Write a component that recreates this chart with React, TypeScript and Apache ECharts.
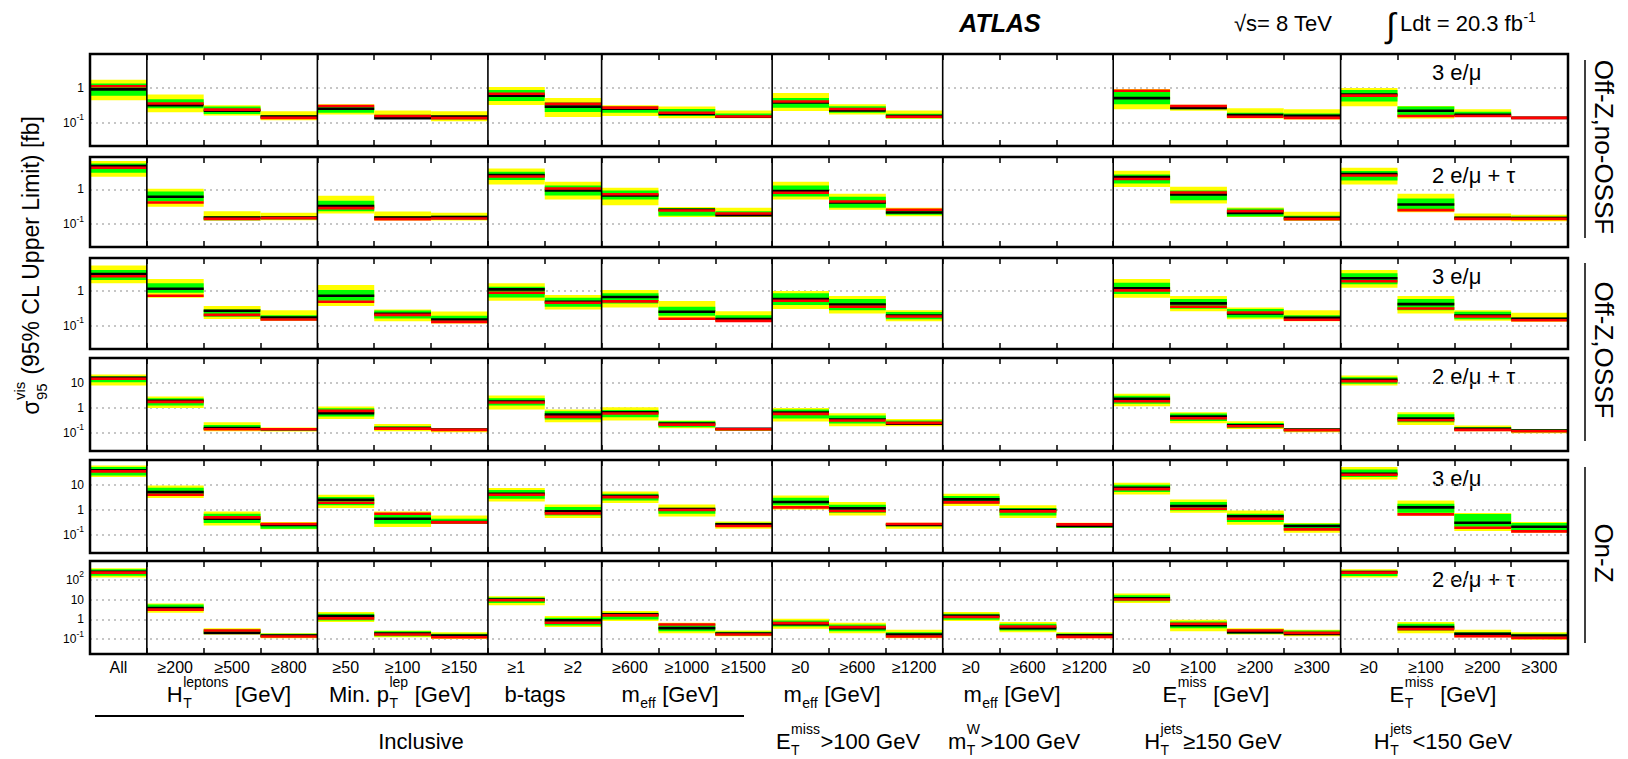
import React, { useEffect, useRef } from 'react';
import * as echarts from 'echarts';

const FONT = '"Liberation Sans", Arial, Helvetica, sans-serif';

const BINS = ['All', '≥200', '≥500', '≥800', '≥50', '≥100', '≥150', '≥1', '≥2', '≥600', '≥1000', '≥1500', '≥0', '≥600', '≥1200', '≥0', '≥600', '≥1200', '≥0', '≥100', '≥200', '≥300', '≥0', '≥100', '≥200', '≥300'];
const GROUP_STARTS = [1, 4, 7, 9, 12, 15, 18, 22];
const CHANNELS = ['3 e/μ', '2 e/μ + τ', '3 e/μ', '2 e/μ + τ', '3 e/μ', '2 e/μ + τ'];
const REGIONS = ['Off-Z,no-OSSF', 'Off-Z,OSSF', 'On-Z'];
const Y_MIN = [0.021, 0.022, 0.022, 0.019, 0.019, 0.018];
const Y_MAX = [9.6, 8.6, 8.5, 98, 95, 880];

const N = null;
// Row 1: Off-Z, no-OSSF, 3 e/mu
const R1_Y2_LO = [0.44, 0.20, 0.161, 0.117, 0.172, 0.128, 0.109, 0.32, 0.144, 0.154, 0.134, 0.134, 0.215, 0.172, 0.128, N, N, N, 0.241, 0.22, 0.131, 0.123, 0.296, 0.131, 0.147, 0.128];
const R1_Y2_HI = [1.72, 0.65, 0.316, 0.211, 0.338, 0.225, 0.211, 1.07, 0.51, 0.316, 0.289, 0.225, 0.71, 0.338, 0.225, N, N, N, 0.93, 0.33, 0.258, 0.241, 1.0, 0.30, 0.241, 0.147];
const R1_G1_LO = [0.60, 0.26, 0.176, 0.128, 0.192, 0.131, 0.123, 0.42, 0.201, 0.192, 0.154, 0.137, 0.27, 0.192, 0.134, N, N, N, 0.338, 0.241, 0.147, 0.137, 0.405, 0.147, 0.154, 0.131];
const R1_G1_HI = [1.34, 0.47, 0.289, 0.164, 0.289, 0.168, 0.157, 0.87, 0.379, 0.289, 0.247, 0.184, 0.51, 0.296, 0.18, N, N, N, 0.78, 0.289, 0.192, 0.184, 0.87, 0.289, 0.206, 0.144];
const R1_EXP = [0.91, 0.316, 0.22, 0.15, 0.252, 0.134, 0.15, 0.60, 0.289, 0.252, 0.176, 0.147, 0.38, 0.225, 0.154, N, N, N, 0.51, 0.264, 0.164, 0.157, 0.65, 0.22, 0.168, 0.137];
const R1_OBS = [1.12, 0.354, 0.236, 0.137, 0.30, 0.154, 0.134, 0.68, 0.346, 0.27, 0.192, 0.15, 0.405, 0.247, 0.147, N, N, N, 0.835, 0.30, 0.147, 0.137, 0.60, 0.154, 0.154, 0.137];
// Row 2: Off-Z, no-OSSF, 2 e/mu + tau
const R2_Y2_LO = [2.32, 0.316, 0.128, 0.13, 0.203, 0.128, 0.128, 1.39, 0.515, 0.353, 0.16, 0.16, 0.515, 0.259, 0.17, N, N, N, 1.17, 0.395, 0.16, 0.125, 1.39, 0.222, 0.13, 0.122];
const R2_Y2_HI = [6.56, 1.05, 0.237, 0.212, 0.657, 0.232, 0.212, 4.03, 1.66, 1.12, 0.31, 0.296, 1.66, 0.75, 0.296, N, N, N, 3.45, 1.19, 0.30, 0.227, 4.22, 0.75, 0.203, 0.186];
const R2_G1_LO = [3.03, 0.46, 0.13, 0.137, 0.237, 0.134, 0.134, 1.86, 0.67, 0.515, 0.174, 0.174, 0.628, 0.296, 0.186, N, N, N, 1.49, 0.49, 0.166, 0.13, 1.82, 0.259, 0.137, 0.134];
const R2_G1_HI = [5.6, 0.875, 0.17, 0.17, 0.47, 0.17, 0.174, 3.23, 1.30, 0.936, 0.29, 0.237, 1.30, 0.614, 0.259, N, N, N, 2.7, 0.936, 0.283, 0.174, 3.38, 0.55, 0.163, 0.166];
const R2_EXP = [4.7, 0.614, 0.156, 0.156, 0.33, 0.156, 0.16, 2.59, 0.936, 0.67, 0.259, 0.182, 0.895, 0.42, 0.217, N, N, N, 2.27, 0.717, 0.212, 0.152, 2.77, 0.369, 0.152, 0.149];
const R2_OBS = [4.2, 0.42, 0.142, 0.149, 0.29, 0.14, 0.146, 2.37, 1.07, 0.73, 0.248, 0.203, 0.80, 0.45, 0.259, N, N, N, 1.99, 0.82, 0.237, 0.14, 2.53, 0.253, 0.142, 0.142];
// Row 3: Off-Z, OSSF, 3 e/mu
const R3_Y2_LO = [1.62, 0.63, 0.158, 0.139, 0.365, 0.136, 0.117, 0.518, 0.293, 0.334, 0.162, 0.13, 0.3, 0.225, 0.136, N, N, N, 0.63, 0.262, 0.155, 0.136, 1.22, 0.225, 0.139, 0.13];
const R3_Y2_HI = [5.18, 2.15, 0.365, 0.28, 1.45, 0.293, 0.257, 1.62, 0.75, 1.04, 0.507, 0.262, 0.98, 0.704, 0.28, N, N, N, 2.15, 0.704, 0.334, 0.28, 3.9, 0.704, 0.28, 0.235];
const R3_G1_LO = [2.02, 0.877, 0.181, 0.145, 0.518, 0.162, 0.136, 0.645, 0.349, 0.435, 0.193, 0.145, 0.39, 0.28, 0.155, N, N, N, 0.803, 0.306, 0.173, 0.152, 1.52, 0.28, 0.155, 0.142];
const R3_G1_HI = [3.9, 1.62, 0.293, 0.2, 1.04, 0.274, 0.193, 1.3, 0.63, 0.839, 0.349, 0.2, 0.839, 0.578, 0.246, N, N, N, 1.69, 0.578, 0.3, 0.2, 3.13, 0.578, 0.251, 0.173];
const R3_EXP = [2.99, 1.14, 0.268, 0.173, 0.72, 0.22, 0.152, 1.09, 0.485, 0.659, 0.251, 0.155, 0.578, 0.407, 0.197, N, N, N, 1.17, 0.435, 0.226, 0.169, 2.25, 0.416, 0.197, 0.159];
const R3_OBS = [2.57, 0.72, 0.206, 0.152, 0.485, 0.206, 0.13, 0.877, 0.454, 0.496, 0.159, 0.139, 0.518, 0.349, 0.185, N, N, N, 1.02, 0.349, 0.24, 0.149, 1.85, 0.313, 0.185, 0.145];
// Row 4: Off-Z, OSSF, 2 e/mu + tau
const R4_Y2_LO = [7.8, 1.0, 0.117, 0.113, 0.363, 0.117, 0.106, 0.858, 0.267, 0.312, 0.154, 0.12, 0.284, 0.185, 0.185, N, N, N, 1.17, 0.243, 0.145, 0.106, 7.8, 0.209, 0.117, 0.097];
const R4_Y2_HI = [21.5, 2.84, 0.267, 0.164, 1.13, 0.229, 0.154, 3.11, 0.858, 1.06, 0.312, 0.154, 1.0, 0.612, 0.363, N, N, N, 3.63, 0.67, 0.293, 0.154, 19.7, 0.67, 0.196, 0.145];
const R4_G1_LO = [10.6, 1.24, 0.132, 0.124, 0.45, 0.132, 0.12, 1.24, 0.342, 0.423, 0.168, 0.128, 0.375, 0.236, 0.209, N, N, N, 1.45, 0.302, 0.158, 0.117, 9.1, 0.267, 0.128, 0.106];
const R4_G1_HI = [18.5, 2.44, 0.209, 0.154, 0.97, 0.185, 0.145, 2.44, 0.736, 0.832, 0.293, 0.149, 0.858, 0.494, 0.312, N, N, N, 3.02, 0.593, 0.251, 0.145, 16.8, 0.558, 0.174, 0.136];
const R4_EXP = [15.8, 1.9, 0.158, 0.14, 0.61, 0.158, 0.136, 1.79, 0.54, 0.67, 0.236, 0.145, 0.65, 0.342, 0.236, N, N, N, 2.29, 0.45, 0.203, 0.136, 13.2, 0.375, 0.145, 0.124];
const R4_OBS = [14.5, 1.74, 0.14, 0.14, 0.76, 0.149, 0.132, 1.63, 0.436, 0.593, 0.215, 0.14, 0.575, 0.312, 0.251, N, N, N, 1.85, 0.386, 0.185, 0.128, 11.7, 0.321, 0.132, 0.117];
// Row 5: On-Z, 3 e/mu
const R5_Y2_LO = [19.9, 2.91, 0.238, 0.166, 1.16, 0.205, 0.278, 2.14, 0.466, 1.84, 0.543, 0.176, 1.03, 0.595, 0.176, 1.4, 0.466, 0.187, 4.06, 0.76, 0.254, 0.122, 16.0, 0.595, 0.142, 0.122];
const R5_Y2_HI = [57.8, 9.27, 0.858, 0.324, 3.95, 0.858, 0.595, 7.25, 1.63, 5.35, 1.63, 0.344, 3.71, 2.02, 0.305, 4.32, 1.49, 0.305, 11.8, 2.57, 0.94, 0.295, 49.6, 2.35, 0.737, 0.324];
const R5_G1_LO = [23.1, 3.49, 0.295, 0.176, 1.49, 0.278, 0.278, 2.73, 0.595, 2.35, 0.694, 0.205, 1.49, 0.76, 0.218, 1.73, 0.595, 0.193, 5.03, 0.94, 0.324, 0.151, 19.9, 0.76, 0.211, 0.151];
const R5_G1_HI = [49.6, 7.5, 0.694, 0.295, 3.18, 0.633, 0.44, 6.05, 1.28, 4.32, 1.2, 0.305, 3.0, 1.58, 0.287, 3.49, 1.16, 0.287, 9.85, 2.02, 0.694, 0.278, 40.1, 1.73, 0.673, 0.295];
const R5_EXP = [36.6, 5.03, 0.44, 0.246, 2.5, 0.44, 0.324, 4.32, 0.858, 3.49, 1.06, 0.262, 2.02, 1.13, 0.246, 2.57, 0.97, 0.224, 7.5, 1.4, 0.543, 0.224, 26.9, 1.24, 0.305, 0.211];
const R5_OBS = [33.4, 3.95, 0.496, 0.27, 1.9, 0.694, 0.314, 3.95, 0.715, 3.18, 0.97, 0.224, 1.24, 0.885, 0.27, 1.96, 0.858, 0.262, 6.62, 1.1, 0.44, 0.166, 24.6, 0.653, 0.193, 0.138];
// Row 6: On-Z, 2 e/mu + tau
const R6_Y2_LO = [131, 2.18, 0.173, 0.112, 0.732, 0.126, 0.104, 5.14, 0.408, 0.823, 0.202, 0.142, 0.336, 0.202, 0.112, 0.823, 0.227, 0.112, 6.75, 0.255, 0.173, 0.142, 131, 0.202, 0.126, 0.093];
const R6_Y2_HI = [377, 6.26, 0.36, 0.202, 2.36, 0.276, 0.227, 14.7, 1.48, 2.65, 0.677, 0.276, 1.08, 0.677, 0.299, 2.36, 0.732, 0.227, 20.1, 0.96, 0.363, 0.299, 335, 0.732, 0.299, 0.227];
const R6_G1_LO = [160, 2.65, 0.187, 0.126, 0.89, 0.142, 0.117, 6.75, 0.496, 1.0, 0.255, 0.154, 0.441, 0.255, 0.126, 0.96, 0.276, 0.126, 8.2, 0.363, 0.187, 0.166, 153, 0.276, 0.148, 0.117];
const R6_G1_HI = [335, 5.56, 0.31, 0.187, 1.94, 0.255, 0.187, 12.6, 1.22, 2.18, 0.6, 0.236, 0.89, 0.557, 0.227, 1.94, 0.6, 0.195, 16.6, 0.79, 0.31, 0.276, 286, 0.6, 0.227, 0.187];
const R6_EXP = [254, 3.77, 0.21, 0.154, 1.48, 0.195, 0.154, 10.0, 0.89, 1.8, 0.363, 0.195, 0.58, 0.363, 0.173, 1.54, 0.363, 0.16, 11.7, 0.515, 0.227, 0.187, 244, 0.408, 0.187, 0.154];
const R6_OBS = [227, 3.1, 0.276, 0.137, 1.12, 0.173, 0.126, 9.2, 0.677, 1.6, 0.557, 0.173, 0.65, 0.408, 0.137, 1.31, 0.441, 0.132, 10.0, 0.6, 0.276, 0.21, 227, 0.323, 0.142, 0.117];

const ROWS = [
  [R1_Y2_LO, R1_Y2_HI, R1_G1_LO, R1_G1_HI, R1_EXP, R1_OBS],
  [R2_Y2_LO, R2_Y2_HI, R2_G1_LO, R2_G1_HI, R2_EXP, R2_OBS],
  [R3_Y2_LO, R3_Y2_HI, R3_G1_LO, R3_G1_HI, R3_EXP, R3_OBS],
  [R4_Y2_LO, R4_Y2_HI, R4_G1_LO, R4_G1_HI, R4_EXP, R4_OBS],
  [R5_Y2_LO, R5_Y2_HI, R5_G1_LO, R5_G1_HI, R5_EXP, R5_OBS],
  [R6_Y2_LO, R6_Y2_HI, R6_G1_LO, R6_G1_HI, R6_EXP, R6_OBS],
];

// layout
const GRID_LEFT = 90;
const GRID_W = 1478;
const ROW_TOP = [54, 157, 258, 358, 460, 561];
const ROW_H = [92, 90, 91, 93, 93, 93];

let measureCtx: CanvasRenderingContext2D | null = null;
function tw(text: string, size: number, weight = 'normal', style = 'normal') {
  if (!measureCtx) measureCtx = document.createElement('canvas').getContext('2d');
  measureCtx!.font = `${style} ${weight} ${size}px ${FONT}`;
  return measureCtx!.measureText(text).width;
}

type Seg = { t?: string; sub?: string; sup?: string };
function mathLabel(segs: Seg[], x: number, y: number, size: number, opt: any = {}) {
  const small = opt.small ?? Math.round(size * 0.65);
  const supDy = opt.supDy ?? -size * 0.55;
  const subDy = opt.subDy ?? size * 0.42;
  const kids: any[] = [];
  let cx = 0;
  const mk = (text: string, px: number, py: number, fs: number) => ({
    type: 'text', x: px, y: py,
    style: { text, fontSize: fs, fontFamily: FONT, fill: '#000', align: 'left', verticalAlign: 'middle' },
  });
  for (const s of segs) {
    if (s.t) {
      const trimmed = s.t.replace(/^\s+/, '');
      const lead = s.t.length - trimmed.length;
      cx += lead * tw(' ', size);
      kids.push(mk(trimmed, cx, 0, size));
      cx += tw(trimmed, size);
    }
    let w = 0;
    if (s.sup) { kids.push(mk(s.sup, cx + 0.5, supDy, small)); w = Math.max(w, tw(s.sup, small)); }
    if (s.sub) { kids.push(mk(s.sub, cx + 0.5, subDy, small)); w = Math.max(w, tw(s.sub, small)); }
    if (w) cx += w + 1;
  }
  const off = opt.align === 'left' ? 0 : -cx / 2;
  kids.forEach((k) => { k.x += off; });
  return { type: 'group', x, y, rotation: opt.rotation ?? 0, children: kids };
}

function renderBand(params: any, api: any) {
  const cs = params.coordSys;
  const w = cs.width / BINS.length;
  const i = api.value(0);
  const x0 = api.coord([i, 1])[0] - w / 2;
  const Y = (v: number) => api.coord([i, v])[1];
  const band = (lo: number, hi: number, fill: string) => ({
    type: 'rect', shape: { x: x0, y: Y(hi), width: w, height: Y(lo) - Y(hi) }, style: { fill },
  });
  const line = (v: number, fill: string) => ({
    type: 'rect', shape: { x: x0, y: Y(v) - 1.3, width: w, height: 2.6 }, style: { fill },
  });
  return {
    type: 'group',
    children: [
      band(api.value(1), api.value(2), '#ffff00'),
      band(api.value(3), api.value(4), '#00ff00'),
      line(api.value(5), '#000000'),
      line(api.value(6), '#ff0000'),
    ],
  };
}

function renderFrame(params: any, api: any) {
  const cs = params.coordSys;
  const w = cs.width / BINS.length;
  const children: any[] = [
    { type: 'rect', shape: { x: cs.x, y: cs.y, width: cs.width, height: cs.height }, style: { fill: 'none', stroke: '#000', lineWidth: 2.5 } },
  ];
  GROUP_STARTS.forEach((g) => {
    const x = api.coord([g, 1])[0] - w / 2;
    children.push({ type: 'line', shape: { x1: x, y1: cs.y, x2: x, y2: cs.y + cs.height }, style: { stroke: '#000', lineWidth: 1.6 } });
  });
  return { type: 'group', children };
}

function yLabel(v: number) {
  const l = Math.log10(v);
  const e = Math.round(l);
  if (Math.abs(l - e) > 1e-6) return '';
  if (e === 0) return '{b|1}';
  if (e === 1) return '{b|10}';
  return `{b|10}{s|${e}}`;
}

export default function App() {
  const ref = useRef<HTMLDivElement>(null);
  useEffect(() => {
    const chart = echarts.init(ref.current!, null, { renderer: 'svg' });
    const grid: any[] = [];
    const xAxis: any[] = [];
    const yAxis: any[] = [];
    const series: any[] = [];
    const tick = { show: true, inside: true, length: 6, interval: 0, lineStyle: { color: '#000', width: 1.5 } };
    ROWS.forEach((row, r) => {
      grid.push({ left: GRID_LEFT, top: ROW_TOP[r], width: GRID_W, height: ROW_H[r], show: false });
      xAxis.push({
        gridIndex: r, type: 'category', data: BINS, min: 0, max: BINS.length - 1, position: 'bottom',
        axisLine: { show: false }, axisTick: tick, splitLine: { show: false },
        axisLabel: r === ROWS.length - 1
          ? { show: true, interval: 0, fontSize: 16, color: '#000', fontFamily: FONT, margin: 5 }
          : { show: false },
      });
      xAxis.push({
        gridIndex: r, type: 'category', data: BINS, min: 0, max: BINS.length - 1, position: 'top',
        axisLine: { show: false }, axisTick: tick, splitLine: { show: false }, axisLabel: { show: false },
      });
      yAxis.push({
        gridIndex: r, type: 'log', logBase: 10, min: Y_MIN[r], max: Y_MAX[r],
        axisLine: { show: false }, axisTick: { show: false },
        splitLine: { show: true, lineStyle: { color: '#b4b4b4', type: [2, 4], width: 1.5 } },
        axisLabel: {
          formatter: yLabel, margin: 6,
          rich: {
            b: { fontSize: 12, fontFamily: FONT, color: '#000', lineHeight: 20 },
            s: { fontSize: 8.5, fontFamily: FONT, color: '#000', lineHeight: 10, verticalAlign: 'top' },
          },
        },
      });
      const data: number[][] = [];
      for (let i = 0; i < BINS.length; i++) {
        if (row[4][i] == null) continue;
        data.push([i, row[0][i] as number, row[1][i] as number, row[2][i] as number, row[3][i] as number, row[4][i] as number, row[5][i] as number]);
      }
      series.push({ type: 'custom', xAxisIndex: 2 * r, yAxisIndex: r, data, renderItem: renderBand, z: 2, silent: true });
      series.push({ type: 'custom', xAxisIndex: 2 * r, yAxisIndex: r, data: [[0, 1]], renderItem: renderFrame, z: 5, silent: true });
    });

    const graphic: any[] = [];
    // header
    graphic.push({ type: 'text', x: 1000, y: 23, style: { text: 'ATLAS', fontSize: 25, fontWeight: 'bold', fontStyle: 'italic', fontFamily: FONT, fill: '#000', align: 'center', verticalAlign: 'middle' } });
    graphic.push({ type: 'text', x: 1283, y: 23, style: { text: '√s= 8 TeV', fontSize: 22, fontFamily: FONT, fill: '#000', align: 'center', verticalAlign: 'middle' } });
    graphic.push({ type: 'text', x: 1391, y: 25, style: { text: '∫', fontSize: 34, fontFamily: FONT, fill: '#000', align: 'center', verticalAlign: 'middle' } });
    graphic.push(mathLabel([{ t: 'Ldt = 20.3 fb', sup: '-1' }], 1400, 23, 22, { align: 'left', supDy: -6, small: 14 }));
    // channel labels
    CHANNELS.forEach((c, r) => {
      graphic.push({ type: 'text', x: 1432, y: ROW_TOP[r] + 18, style: { text: c, fontSize: 22, fontFamily: FONT, fill: '#000', align: 'left', verticalAlign: 'middle' } });
    });
    // region labels on the right
    const regionSpan = [[60, 238], [263, 441], [467, 643]];
    REGIONS.forEach((t, k) => {
      const [a, b] = regionSpan[k];
      graphic.push({ type: 'line', shape: { x1: 1585, y1: a, x2: 1585, y2: b }, style: { stroke: '#000', lineWidth: 1.5 } });
      graphic.push(mathLabel([{ t }], 1604, (a + b) / 2 - 2, 26, { rotation: -Math.PI / 2 }));
    });
    // y title
    graphic.push(mathLabel([{ t: 'σ', sub: '95', sup: 'vis' }, { t: ' (95% CL Upper Limit) [fb]' }], 31, 265, 23, { rotation: Math.PI / 2, supDy: -12, subDy: 10, small: 15 }));
    // group labels
    const gl = (segs: Seg[], x: number, y: number) => graphic.push(mathLabel(segs, x, y, 22, { supDy: -12, subDy: 9, small: 14 }));
    gl([{ t: 'H', sub: 'T', sup: 'leptons' }, { t: ' [GeV]' }], 229, 694);
    gl([{ t: 'Min. p', sub: 'T', sup: 'lep' }, { t: ' [GeV]' }], 400, 694);
    gl([{ t: 'b-tags' }], 535, 694);
    gl([{ t: 'm', sub: 'eff' }, { t: ' [GeV]' }], 670, 694);
    gl([{ t: 'm', sub: 'eff' }, { t: ' [GeV]' }], 832, 694);
    gl([{ t: 'm', sub: 'eff' }, { t: ' [GeV]' }], 1012, 694);
    gl([{ t: 'E', sub: 'T', sup: 'miss' }, { t: ' [GeV]' }], 1216, 694);
    gl([{ t: 'E', sub: 'T', sup: 'miss' }, { t: ' [GeV]' }], 1443, 694);
    graphic.push({ type: 'line', shape: { x1: 95, y1: 716, x2: 744, y2: 716 }, style: { stroke: '#000', lineWidth: 2 } });
    gl([{ t: 'Inclusive' }], 421, 741);
    gl([{ t: 'E', sub: 'T', sup: 'miss' }, { t: '>100 GeV' }], 848, 741);
    gl([{ t: 'm', sub: 'T', sup: 'W' }, { t: '>100 GeV' }], 1014, 741);
    gl([{ t: 'H', sub: 'T', sup: 'jets' }, { t: '≥150 GeV' }], 1213, 741);
    gl([{ t: 'H', sub: 'T', sup: 'jets' }, { t: '<150 GeV' }], 1443, 741);

    chart.setOption({
      animation: false,
      backgroundColor: '#ffffff',
      grid, xAxis, yAxis, series, graphic,
    });
    return () => chart.dispose();
  }, []);
  return <div ref={ref} style={{ position: 'absolute', left: 0, top: 0, width: 1628, height: 759 }} />;
}
